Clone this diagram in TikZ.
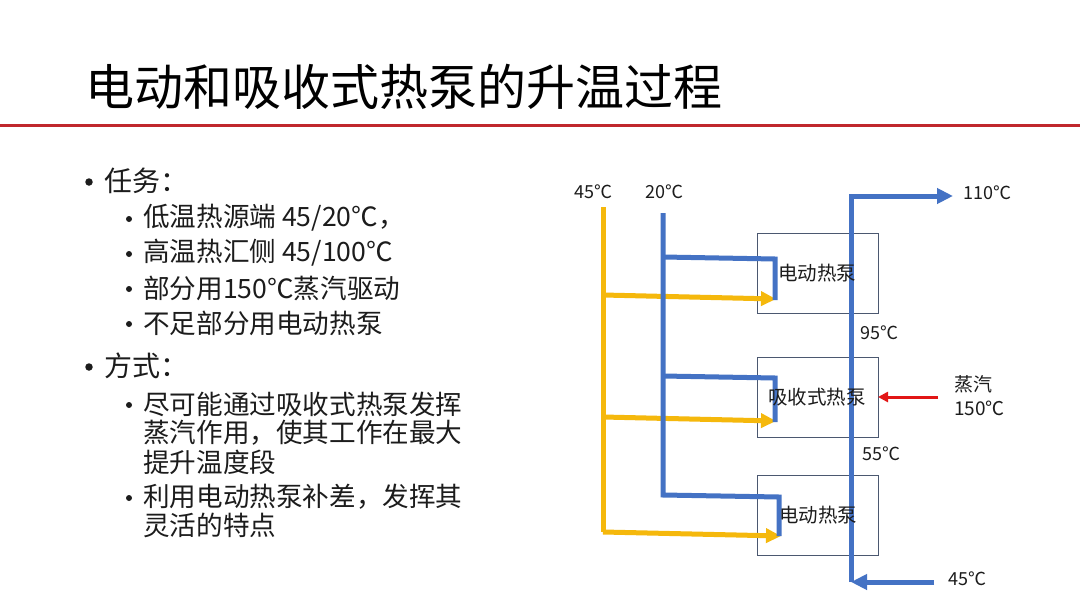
\documentclass[tikz,border=0pt]{standalone}
\usepackage{fontspec}
\setmainfont{Noto Sans CJK SC}
\usetikzlibrary{arrows.meta}
\definecolor{ylw}{RGB}{245,184,12}
\definecolor{blu}{RGB}{68,114,196}
\definecolor{redl}{RGB}{192,40,45}
\definecolor{reda}{RGB}{226,22,22}
\definecolor{boxc}{RGB}{75,88,112}
\definecolor{txt}{RGB}{28,28,28}
\begin{document}
\begin{tikzpicture}[x=1pt,y=-1pt,
  yflow/.style={draw=ylw,line width=5pt},
  bflow/.style={draw=blu,line width=5pt},
  ytip/.style={-{Triangle[length=15pt,width=14pt]}},
  btip/.style={-{Triangle[length=16pt,width=15pt]}},
  hpbox/.style={draw=boxc,line width=0.9pt,minimum width=121pt,minimum height=80pt,anchor=north west,inner sep=0pt},
  lab/.style={anchor=west,inner sep=0pt,font=\fontsize{18}{20}\selectfont,text=txt},
  hplab/.style={anchor=west,inner sep=0pt,font=\fontsize{19.5}{22}\selectfont,text=txt},
  lone/.style={anchor=west,inner sep=0pt,font=\fontsize{28}{30}\selectfont,text=txt},
  ltwo/.style={anchor=west,inner sep=0pt,font=\fontsize{26.6}{28}\selectfont,text=txt},
  bulone/.style={circle,fill=txt,inner sep=0pt,minimum size=7.5pt},
  bultwo/.style={circle,fill=txt,inner sep=0pt,minimum size=6pt},
]
\fill[white] (0,0) rectangle (1080,608);
\useasboundingbox (0,0) rectangle (1080,608);

% title
\node[anchor=west,inner sep=0pt,font=\fontsize{49}{52}\selectfont,text=black] (title) at (85,87) {电动和吸收式热泵的升温过程};
\coordinate (rl1) at (0,125);
\coordinate (rl2) at (1080,125);
\draw[redl,line width=3pt] (rl1) -- (rl2);

% left text
\node[bulone] (bA) at (89,182) {};
\node[lone] (tA) at (104,181) {任务：};
\node[bultwo] (b1) at (129,219) {};
\node[ltwo] (t1) at (143,218) {低温热源端 45/20℃，};
\node[bultwo] (b2) at (129,254) {};
\node[ltwo] (t2) at (143,253) {高温热汇侧 45/100℃};
\node[bultwo] (b3) at (129,289) {};
\node[ltwo] (t3) at (143,288) {部分用150℃蒸汽驱动};
\node[bultwo] (b4) at (129,324) {};
\node[ltwo] (t4) at (143,323) {不足部分用电动热泵};
\node[bulone] (bB) at (89,367) {};
\node[lone] (tB) at (104,366) {方式：};
\node[bultwo] (b5) at (129,405) {};
\node[ltwo] (t5a) at (143,404) {尽可能通过吸收式热泵发挥};
\node[ltwo] (t5b) at (143,433) {蒸汽作用，使其工作在最大};
\node[ltwo] (t5c) at (143,462) {提升温度段};
\node[bultwo] (b6) at (129,498) {};
\node[ltwo] (t6a) at (143,497) {利用电动热泵补差，发挥其};
\node[ltwo] (t6b) at (143,525) {灵活的特点};

% boxes
\node[hpbox] (hp1) at (757,233) {};
\node[hpbox] (hp2) at (757,357) {};
\node[hpbox] (hp3) at (757,475) {};

% yellow source (45C)
\coordinate (yTop) at (603,207);
\coordinate (yJ1) at (603,295);
\coordinate (yJ2) at (603,417);
\coordinate (yBot) at (603,532);
\coordinate (yE1) at (776,299);
\coordinate (yE2) at (776,421);
\coordinate (yE3) at (781,536);
\draw[yflow] (yTop) -- (yBot);
\draw[yflow,ytip] (yJ1) -- (yE1);
\draw[yflow,ytip] (yJ2) -- (yE2);
\draw[yflow,ytip] (yBot) -- (yE3);

% blue source (20C)
\coordinate (bTop) at (663,213);
\coordinate (bJ1) at (663,257);
\coordinate (bJ2) at (663,376);
\coordinate (bBot) at (663,495);
\coordinate (bC1) at (775,259);
\coordinate (bE1) at (775,300);
\coordinate (bC2) at (775,378);
\coordinate (bE2) at (775,422);
\coordinate (bC3) at (779,497);
\coordinate (bE3) at (779,536);
\draw[bflow] (bTop) -- (bBot) -- (bC3) -- (bE3);
\draw[bflow] (bJ1) -- (bC1) -- (bE1);
\draw[bflow] (bJ2) -- (bC2) -- (bE2);

% hot water riser
\coordinate (rIn) at (934,582);
\coordinate (rBot) at (851,582);
\coordinate (rTop) at (851,196);
\coordinate (rOut) at (953,196);
\draw[bflow,btip] (rIn) -- (rBot);
\draw[bflow,btip] (rBot) -- (rTop) -- (rOut);

% steam
\coordinate (sIn) at (938,397);
\coordinate (sOut) at (878,397);
\draw[reda,line width=3pt,-{Triangle[length=10pt,width=10pt]}] (sIn) -- (sOut);

% box labels
\node[hplab] (l1) at (778,273) {电动热泵};
\node[hplab] (l2) at (768,397) {吸收式热泵};
\node[hplab] (l3) at (779,515) {电动热泵};

% temperature labels
\node[lab] (t45a) at (574,192) {45℃};
\node[lab] (t20) at (645,192) {20℃};
\node[lab] (t110) at (963,193) {110℃};
\node[lab] (t95) at (860,333) {95℃};
\node[lab] (t55) at (862,454) {55℃};
\node[lab] (t45b) at (948,579) {45℃};
\node[lab,font=\fontsize{19}{21}\selectfont] (st1) at (954,384) {蒸汽};
\node[lab,font=\fontsize{19}{21}\selectfont] (st2) at (954,408) {150℃};
\end{tikzpicture}
\end{document}
